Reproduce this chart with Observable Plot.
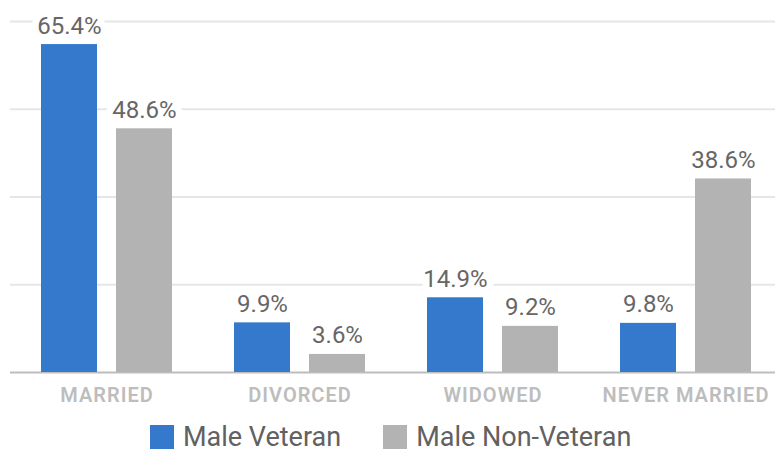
<!DOCTYPE html>
<html><head><meta charset="utf-8">
<script src="https://cdn.jsdelivr.net/npm/d3@7"></script>
<script src="https://cdn.jsdelivr.net/npm/@observablehq/plot@0.6"></script>
<style>
html,body{margin:0;background:#fff;font-family:Roboto,sans-serif;overflow:hidden;}
#chart svg{display:block;}
#chart g[aria-label="fx-axis tick label"] text{letter-spacing:1px;}
.legend{display:flex;align-items:center;padding-left:150px;margin-top:13px;height:28px;}
.item{display:flex;align-items:center;margin-right:42px;height:28px;}
.sw{width:24px;height:24px;margin-right:9px;}
.lab{font-size:27px;color:#616161;line-height:28px;height:28px;}
</style></head><body><div id="chart"></div><div class="legend" id="legend"></div><script>
const categories = ["MARRIED", "DIVORCED", "WIDOWED", "NEVER MARRIED"];
const series = ["Male Veteran", "Male Non-Veteran"];
const veteran = [65.4, 9.9, 14.9, 9.8];
const nonVeteran = [48.6, 3.6, 9.2, 38.6];
const colors = ["#3479CC", "#B3B3B3"];
const yTicks = [0, 17.5, 35, 52.5, 70];

const data = categories.flatMap((c, i) => [
  {category: c, series: series[0], value: veteran[i]},
  {category: c, series: series[1], value: nonVeteran[i]}
]);

const chart = Plot.plot({
  width: 775, height: 410,
  marginTop: 21, marginBottom: 38, marginLeft: 10, marginRight: 0,
  style: {fontFamily: "Roboto, sans-serif", background: "#fff"},
  fx: {domain: categories, range: [10, 782], padding: 0, label: null, axis: null},
  x: {domain: series, paddingInner: 0.25, paddingOuter: 0.395, axis: null},
  y: {domain: [0, 70], axis: null},
  color: {domain: series, range: colors},
  marks: [
    Plot.ruleY(yTicks.slice(1), {stroke: "#e6e6e6", strokeWidth: 2}),
    Plot.ruleY([0], {stroke: "#bdbdbd", strokeWidth: 2}),
    Plot.barY(data, {fx: "category", x: "series", y: "value", fill: "series"}),
    Plot.text(data, {fx: "category", x: "series", y: "value",
      text: d => d.value.toFixed(1) + "%", lineAnchor: "bottom", dy: -11,
      fontSize: 24, fill: "#666", stroke: "white", strokeWidth: 14, paintOrder: "stroke"}),
    Plot.axisFx({anchor: "bottom", tickSize: 0, tickPadding: 15, fontSize: 20,
      fill: "#bdbdbd", fontWeight: 600, label: null})
  ]
});
document.getElementById("chart").appendChild(chart);

const leg = document.getElementById("legend");
series.forEach((s, i) => {
  const it = document.createElement("div"); it.className = "item";
  const sw = document.createElement("div"); sw.className = "sw"; sw.style.background = colors[i];
  const lb = document.createElement("div"); lb.className = "lab"; lb.textContent = s;
  it.appendChild(sw); it.appendChild(lb); leg.appendChild(it);
});
</script></body></html>
